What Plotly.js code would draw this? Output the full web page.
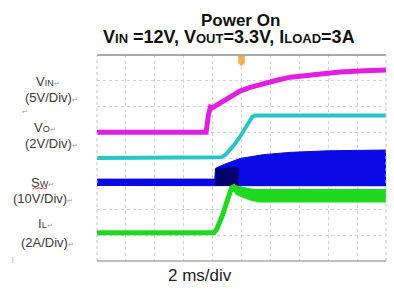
<!DOCTYPE html>
<html><head><meta charset="utf-8">
<script src="https://cdn.plot.ly/plotly-3.0.1.min.js"></script>
<style>html,body{margin:0;padding:0;background:#fff;}#chart{width:394px;height:289px;}</style>
</head><body><div id="chart"></div>
<script>
// Time axis in ms (2 ms/div, 10 divisions)
const timeRange = [0, 20];
const triggerTime = 10;

// Channel scales (units per division) and ground offsets (divisions from bottom)
const vinScale = 5,  vinOffset = 5.0;
const voScale = 2,   voOffset = 4.0;
const swScale = 10,  swOffset = 3.0;
const ilScale = 2,   ilOffset = 1.1;

// VIN (V)
const vinT = [0, 7.55, 7.72, 7.85, 8.0, 8.6, 9.3, 9.9, 10.6, 11.6, 12.5, 13.4, 15.1, 16.8, 18.5, 20];
const vinV = [0, 0, 3.5, 4.9, 4.8, 5.9, 7.0, 8.0, 8.7, 9.55, 10.15, 10.7, 11.3, 11.7, 11.95, 12.1];

// VO (V)
const voT = [0, 8.2, 8.6, 8.9, 9.2, 9.55, 9.9, 10.2, 10.5, 10.75, 10.95, 20];
const voV = [0, 0, 0.05, 0.25, 0.6, 1.1, 1.65, 2.2, 2.8, 3.2, 3.3, 3.3];

// SW envelope (V)
const swT   = [0, 8.15, 8.2, 8.8, 9.9, 11.5, 13.4, 16, 20];
const swMax = [1.8, 1.8, 6.0, 7.5, 9.8, 11.3, 12.2, 12.8, 13.1];
const swMin = [-0.9, -0.9, -0.9, -0.9, -1.0, -1.0, -1.0, -1.0, -1.0];
// SW dense start-up region (V)
const swDenseT   = [8.2, 8.8, 9.4, 9.8];
const swDenseMax = [5.6, 5.9, 6.2, 6.0];
const swDenseMin = [-0.9, -0.9, -0.9, -0.9];

// IL (A): start-up line and ripple envelope
const ilT = [0, 8.1, 8.3, 8.5, 8.7, 8.9, 9.1, 9.3, 9.45, 9.6];
const ilA = [0, 0, 0.3, 0.75, 1.4, 2.1, 2.9, 3.45, 3.55, 3.3];
const ilBandT = [9.4, 9.6, 10.0, 10.6, 11.2, 20];
const ilMax = [3.7, 3.65, 3.5, 3.4, 3.35, 3.35];
const ilMin = [3.3, 2.95, 2.75, 2.5, 2.35, 2.35];

const toDiv = (arr, scale, off) => arr.map(v => off + v / scale);

const traces = [
  {x: vinT, y: toDiv(vinV, vinScale, vinOffset), mode: 'lines', line: {color: '#e31ee3', width: 5}},
  {x: voT, y: toDiv(voV, voScale, voOffset), mode: 'lines', line: {color: '#26c6c6', width: 4}},
  {x: swT, y: toDiv(swMin, swScale, swOffset), mode: 'lines', line: {color: '#0a0ae6', width: 0}},
  {x: swT, y: toDiv(swMax, swScale, swOffset), mode: 'lines', fill: 'tonexty', fillcolor: '#0a0ae6', line: {color: '#0a0ae6', width: 1}},
  {x: swDenseT, y: toDiv(swDenseMin, swScale, swOffset), mode: 'lines', line: {color: '#000070', width: 0}},
  {x: swDenseT, y: toDiv(swDenseMax, swScale, swOffset), mode: 'lines', fill: 'tonexty', fillcolor: '#00006e', line: {color: '#00006e', width: 1}},
  {x: ilT, y: toDiv(ilA, ilScale, ilOffset), mode: 'lines', line: {color: '#1fd81f', width: 5}},
  {x: ilBandT, y: toDiv(ilMin, ilScale, ilOffset), mode: 'lines', line: {color: '#1fd81f', width: 0}},
  {x: ilBandT, y: toDiv(ilMax, ilScale, ilOffset), mode: 'lines', fill: 'tonexty', fillcolor: '#1fd81f', line: {color: '#1fd81f', width: 1}}
];

const L = 97, R = 386, T = 55, B = 261;
const px = x => (x - L) / (R - L);
const py = y => (B - y) / (B - T);
const font = 'Liberation Sans, Arial, sans-serif';
const pm = s => `<span style="font-size:7px;color:#999">${s}</span>`;
function lab(text, x, y, size) {
  return {text: text, xref: 'paper', yref: 'paper', x: px(x), y: py(y), xanchor: 'center', yanchor: 'middle',
          showarrow: false, font: {family: font, size: size || 13, color: '#3a3a3a'}};
}
const big = s => `<span style="font-size:18px">${s}</span>`;
const sm = s => `<span style="font-size:13px">${s}</span>`;
const titleText = '<b><span style="font-size:17px">\u00a0\u00a0\u00a0\u00a0\u00a0Power On</span><br>' +
  big('V') + sm('IN') + big(' =12V, V') + sm('OUT') + big('=3.3V, I') + sm('LOAD') + big('=3A') + '</b>';

const annotations = [
  {text: titleText, xref: 'paper', yref: 'paper', x: px(229), y: py(29), xanchor: 'center', yanchor: 'middle',
   align: 'center', showarrow: false, font: {family: font, size: 13, color: '#111'}},
  lab('V<span style="font-size:9px">IN</span>' + pm('↵'), 48, 81),
  lab('(5V/Div)' + pm('↵'), 51, 97),
  lab(pm('↵'), 25, 111),
  lab('V<span style="font-size:9px">O</span>' + pm('↵'), 45, 128),
  lab('(2V/Div)' + pm('↵'), 51, 143),
  lab('S<span style="font-size:9px">W</span>' + pm('↵'), 42, 182.5),
  lab('(10V/Div)' + pm('↵'), 43, 198),
  lab('I<span style="font-size:9px">L</span>' + pm('↵'), 45, 223),
  lab('(2A/Div)' + pm('↵'), 47, 242),
  lab(pm('ȷ'), 12, 259),
  {text: '2 ms/div', xref: 'paper', yref: 'paper', x: px(200), y: py(275), xanchor: 'center', yanchor: 'middle',
   showarrow: false, font: {family: font, size: 17, color: '#222'}}
];

const shapes = [
  {type: 'line', xref: 'paper', yref: 'paper', x0: 0, x1: 1, y0: 1, y1: 1, line: {color: '#8c8c8c', width: 1.5}},
  {type: 'line', xref: 'paper', yref: 'paper', x0: 0, x1: 1, y0: 0, y1: 0, line: {color: '#a8a8a8', width: 1.5}},
  {type: 'line', xref: 'paper', yref: 'paper', x0: 0, x1: 0, y0: 0, y1: 1, line: {color: '#c4c4c4', width: 1, dash: 'dot'}},
  {type: 'line', xref: 'paper', yref: 'paper', x0: 1, x1: 1, y0: 0, y1: 1, line: {color: '#c4c4c4', width: 1, dash: 'dot'}},
  {type: 'path', xref: 'x', yref: 'paper', xsizemode: 'pixel', ysizemode: 'pixel', xanchor: triggerTime, yanchor: 1,
   path: 'M-3,-1 L3,-1 L3,-8 L0,-11 L-3,-8 Z', fillcolor: '#f4b04c', line: {color: '#e8a040', width: 0.5}},
  {type: 'path', xref: 'paper', yref: 'paper',
   path: `M${px(33)},${py(189)} L${px(35)},${py(187.5)} L${px(37)},${py(189)} L${px(39)},${py(187.5)} L${px(41)},${py(189)} L${px(43)},${py(187.5)} L${px(45)},${py(189)} L${px(47)},${py(187.5)}`,
   line: {color: '#e03030', width: 1}}
];

const layout = {
  width: 394, height: 289,
  margin: {l: L, r: 394 - R, t: T, b: 289 - B, pad: 0},
  paper_bgcolor: '#fff', plot_bgcolor: '#fff',
  showlegend: false,
  xaxis: {range: timeRange, dtick: 2, showgrid: true, gridcolor: '#d2d2d2', griddash: 'dot', gridwidth: 1,
          zeroline: false, showline: false, showticklabels: false, ticks: '', fixedrange: true},
  yaxis: {range: [0, 8], dtick: 1, showgrid: true, gridcolor: '#d2d2d2', griddash: 'dot', gridwidth: 1,
          zeroline: false, showline: false, showticklabels: false, ticks: '', fixedrange: true},
  annotations: annotations,
  shapes: shapes
};

Plotly.newPlot('chart', traces, layout, {displayModeBar: false, staticPlot: true});
</script></body></html>
